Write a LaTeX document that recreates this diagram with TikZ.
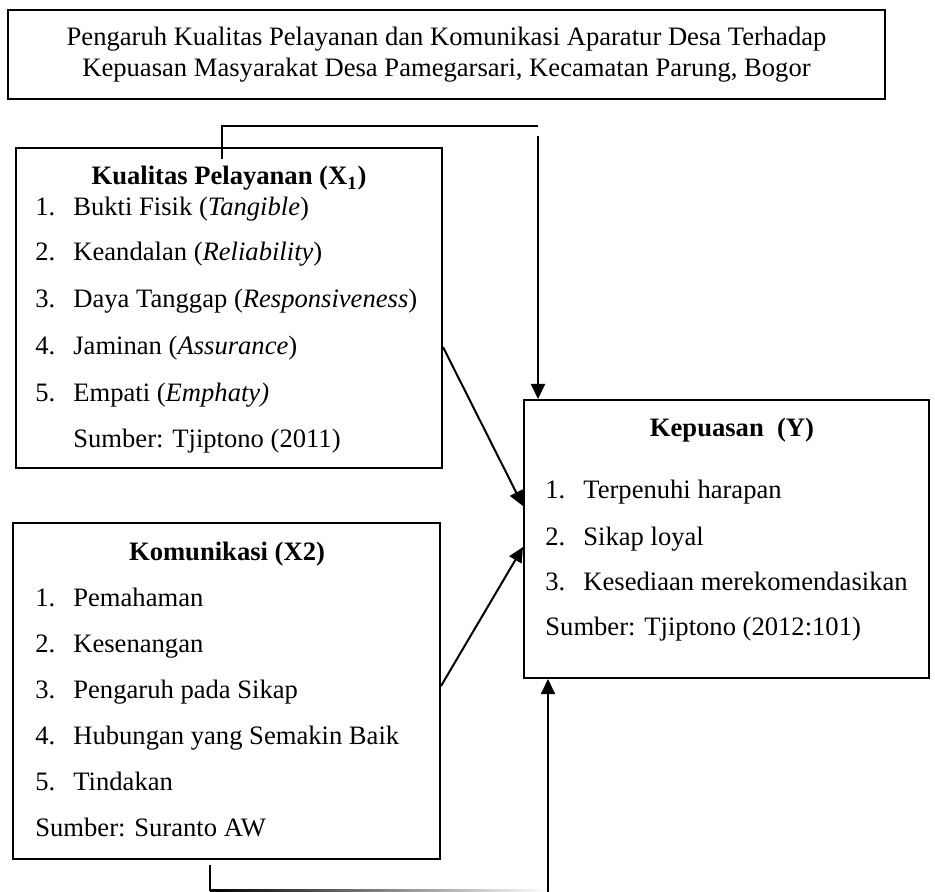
\documentclass[tikz,border=0pt]{standalone}
\usepackage{fontspec}
\setmainfont{Liberation Serif}
\usetikzlibrary{arrows.meta}

\newcommand{\nomor}[1]{\makebox[19pt][l]{#1}}
\newcommand{\ukuran}{\fontsize{13.3}{15.5}\selectfont}

\tikzset{
  kotak/.style={draw, line width=1pt, inner sep=0pt},
  judul/.style={font=\ukuran\bfseries, anchor=base, inner sep=0pt},
  butir/.style={anchor=base west, inner sep=0pt},
  panah/.style={line width=1pt, -{Triangle[length=7.5pt,width=7pt]}},
  garis/.style={line width=0.8pt}
}

\begin{document}
\begin{tikzpicture}[x=0.5pt,y=-0.5pt,font=\ukuran]
        \useasboundingbox (0,0) rectangle (935,892);

        % Boxes
        \node[kotak, minimum width=438.5pt, minimum height=44.5pt, align=center] (judul) at (446.5,54.5)
            {Pengaruh Kualitas Pelayanan dan Komunikasi Aparatur Desa Terhadap\\
             Kepuasan Masyarakat Desa Pamegarsari, Kecamatan Parung, Bogor};
        \node[kotak, minimum width=213pt, minimum height=160pt] (x1) at (229,308) {};
        \node[kotak, minimum width=202.5pt, minimum height=139pt] (y) at (726.5,539) {};
        \node[kotak, minimum width=213.5pt, minimum height=168pt] (x2) at (226.5,691) {};

        % Kualitas Pelayanan
        \node[judul] (tx1) at (229,185) {Kualitas Pelayanan (X\textsubscript{1})};
        \node[butir] (x1a) at (35,216) {\nomor{1.}Bukti Fisik (\textit{Tangible})};
        \node[butir] (x1b) at (35,261) {\nomor{2.}Keandalan (\textit{Reliability})};
        \node[butir] (x1c) at (35,308) {\nomor{3.}Daya Tanggap (\textit{Responsiveness})};
        \node[butir] (x1d) at (35,355) {\nomor{4.}Jaminan (\textit{Assurance})};
        \node[butir] (x1e) at (35,401) {\nomor{5.}Empati (\textit{Emphaty)}};
        \node[butir] (x1s) at (73,447) {Sumber: Tjiptono (2011)};

        % Kepuasan
        \node[judul] (ty) at (732,436) {Kepuasan~~(Y)};
        \node[butir] (ya) at (545,498) {\nomor{1.}Terpenuhi harapan};
        \node[butir] (yb) at (545,545) {\nomor{2.}Sikap loyal};
        \node[butir] (yc) at (545,590) {\nomor{3.}Kesediaan merekomendasikan};
        \node[butir] (ys) at (545,635) {Sumber: Tjiptono (2012:101)};

        % Komunikasi
        \node[judul] (tx2) at (227,560) {Komunikasi (X2)};
        \node[butir] (x2a) at (35,606) {\nomor{1.}Pemahaman};
        \node[butir] (x2b) at (35,652) {\nomor{2.}Kesenangan};
        \node[butir] (x2c) at (35,698) {\nomor{3.}Pengaruh pada Sikap};
        \node[butir] (x2d) at (35,744) {\nomor{4.}Hubungan yang Semakin Baik};
        \node[butir] (x2e) at (35,790) {\nomor{5.}Tindakan};
        \node[butir] (x2s) at (35,836) {Sumber: Suranto AW};

        % Connectors
        \coordinate (atas0) at (222,159);
        \coordinate (atas1) at (222,126);
        \coordinate (atas2) at (538,126);
        \coordinate (atas3) at (538,136);
        \draw[garis] (atas0) -- (atas1) -- (atas2);
        \draw[panah] (atas3) -- (atas3 |- y.north);

        \draw[panah] (x1.east |- 0,347) -- (y.west |- 0,506);
        \draw[panah] (x2.east |- 0,686) -- (y.west |- 0,547);

        \coordinate (bawah0) at (210,865);
        \coordinate (bawah1) at (210,891);
        \coordinate (bawah2) at (548,892);
        \draw[garis] (bawah0) -- (bawah1);
        \shade[left color=black, right color=white] (bawah1) ++(0,-2) rectangle (548,893);
        \draw[panah] (bawah2) -- (bawah2 |- y.south);
\end{tikzpicture}
\end{document}
